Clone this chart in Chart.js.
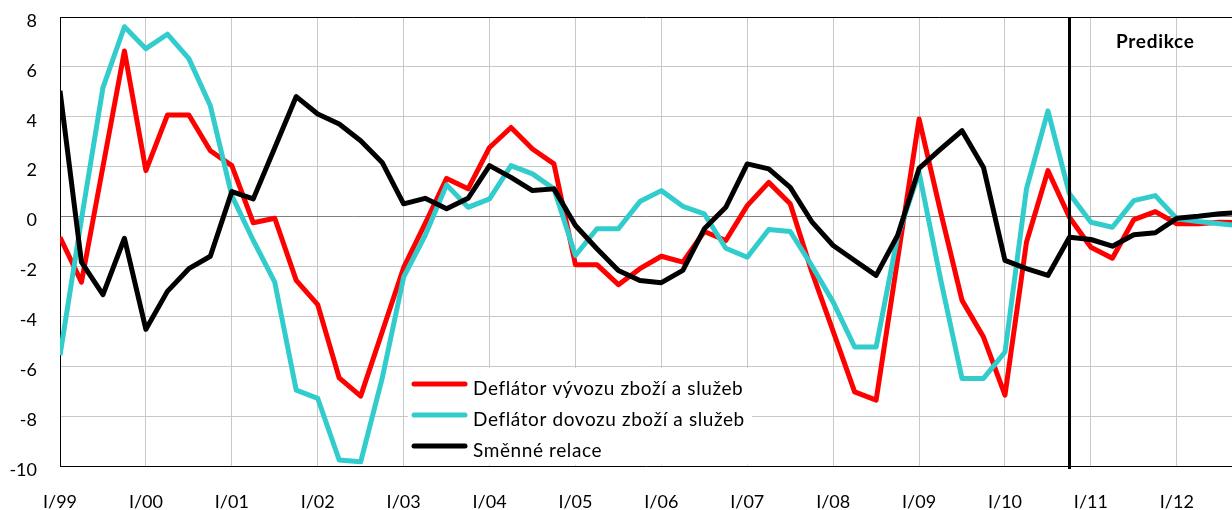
<!DOCTYPE html>
<html>
<head>
<meta charset="utf-8">
<script src="https://cdn.jsdelivr.net/npm/chart.js@4.4.1/dist/chart.umd.min.js"></script>
<style>
    html, body { margin: 0; padding: 0; background: #fff; }
</style>
</head>
<body>
<canvas id="deflatoryChart" width="1232" height="510"></canvas>
<script>
// roky a popisky osy X (I. ctvrtleti kazdeho roku)
const roky = ["99", "00", "01", "02", "03", "04", "05", "06", "07", "08", "09", "10", "11", "12"];
const popiskyOsyX = ["I/99", "I/00", "I/01", "I/02", "I/03", "I/04", "I/05", "I/06", "I/07", "I/08", "I/09", "I/10", "I/11", "I/12"];
const rimska = ["I", "II", "III", "IV"];
const ctvrtleti = [];
roky.forEach(r => rimska.forEach(q => ctvrtleti.push(q + "/" + r)));

// mezirocni zmeny v %, I/99 az IV/12
const deflatorVyvozu = [
    -0.83, -2.63, 2.0, 6.64, 1.84, 4.07, 4.07, 2.64,
    2.04, -0.25, -0.07, -2.56, -3.53, -6.47, -7.2, -4.63,
    -2.05, -0.28, 1.53, 1.11, 2.77, 3.57, 2.71, 2.11,
    -1.93, -1.93, -2.73, -2.09, -1.59, -1.83, -0.6, -0.96,
    0.44, 1.37, 0.51, -2.2, -4.6, -7.03, -7.36, -1.72,
    3.91, 0.2, -3.36, -4.83, -7.16, -1.03, 1.84, -0.03,
    -1.23, -1.67, -0.12, 0.2, -0.29, -0.29, -0.23, -0.25
];
const deflatorDovozu = [
    -5.56, -0.1, 5.17, 7.61, 6.73, 7.31, 6.33, 4.44,
    0.84, -0.96, -2.63, -6.96, -7.29, -9.76, -9.83, -6.49,
    -2.43, -0.76, 1.27, 0.37, 0.71, 2.04, 1.71, 1.11,
    -1.56, -0.49, -0.49, 0.6, 1.04, 0.41, 0.11, -1.27,
    -1.63, -0.52, -0.6, -1.96, -3.43, -5.23, -5.23, -0.8,
    1.77, -2.5, -6.49, -6.49, -5.43, 1.11, 4.24, 0.91,
    -0.23, -0.43, 0.64, 0.84, -0.09, -0.2, -0.29, -0.38
];
const smenneRelace = [
    5.04, -1.83, -3.13, -0.87, -4.52, -3.0, -2.09, -1.59,
    1.0, 0.71, 2.76, 4.81, 4.11, 3.71, 3.04, 2.17,
    0.51, 0.73, 0.31, 0.73, 2.04, 1.57, 1.04, 1.11,
    -0.36, -1.29, -2.16, -2.56, -2.65, -2.16, -0.49, 0.37,
    2.11, 1.91, 1.17, -0.2, -1.16, -1.76, -2.36, -0.76,
    1.93, 2.7, 3.44, 1.97, -1.76, -2.09, -2.36, -0.83,
    -0.92, -1.19, -0.73, -0.65, -0.07, 0.01, 0.11, 0.17
];

const zacatekPredikce = ctvrtleti.indexOf("IV/10");
const FONT = "Lato, 'Open Sans', sans-serif";

const body = arr => arr.map((v, i) => ({ x: i, y: v }));

// legenda uvnitr grafu + svisla cara predikce
const doplnky = {
    id: "doplnky",
    afterDatasetsDraw(chart) {
        const c = chart.ctx;
        const { x, y } = chart.scales;
        c.save();

        // predikce
        const px = Math.round(x.getPixelForValue(zacatekPredikce)) + 0.5;
        c.strokeStyle = "#000";
        c.lineWidth = 3;
        c.beginPath();
        c.moveTo(px, chart.chartArea.top);
        c.lineTo(px, chart.chartArea.bottom + 3);
        c.stroke();
        c.fillStyle = "#000";
        c.font = "bold 19px " + FONT;
        c.letterSpacing = "0.7px";
        c.textAlign = "center";
        c.textBaseline = "middle";
        c.fillText("Predikce", x.getPixelForValue(zacatekPredikce + 4), y.getPixelForValue(7));

        // legenda
        c.fillStyle = "#fff";
        c.fillRect(408, 368, 344, 97);
        c.font = "19px " + FONT;
        c.letterSpacing = "0.6px";
        c.textAlign = "left";
        c.textBaseline = "alphabetic";
        chart.data.datasets.forEach((ds, i) => {
            const ly = 384 + i * 31;
            c.strokeStyle = ds.borderColor;
            c.lineWidth = 5;
            c.lineCap = "round";
            c.beginPath();
            c.moveTo(414, ly);
            c.lineTo(465, ly);
            c.stroke();
            c.fillStyle = "#000";
            c.fillText(ds.label, 473, ly + 11);
        });
        c.restore();
    }
};

const ctx = document.getElementById("deflatoryChart").getContext("2d");
new Chart(ctx, {
    type: "line",
    data: {
        datasets: [
            {
                label: "Deflátor vývozu zboží a služeb",
                data: body(deflatorVyvozu),
                borderColor: "#ff0000",
                order: 2,
            },
            {
                label: "Deflátor dovozu zboží a služeb",
                data: body(deflatorDovozu),
                borderColor: "#33cccc",
                order: 1,
            },
            {
                label: "Směnné relace",
                data: body(smenneRelace),
                borderColor: "#000000",
                order: 0,
            },
        ],
    },
    options: {
        responsive: false,
        animation: false,
        devicePixelRatio: 1,
        elements: {
            point: { radius: 0 },
            line: { borderWidth: 5, tension: 0, borderJoinStyle: "round", fill: false },
        },
        layout: { padding: { top: 17, right: 0, left: 0, bottom: 0 } },
        plugins: {
            legend: { display: false },
            tooltip: { enabled: false },
        },
        scales: {
            x: {
                type: "linear",
                min: 0,
                max: 54.57,
                grid: { color: "#c8c8c8", drawTicks: false },
                border: { color: "#000", width: 1 },
                ticks: {
                    stepSize: 4,
                    includeBounds: false,
                    autoSkip: false,
                    maxRotation: 0,
                    padding: 25,
                    color: "#000",
                    font: { family: FONT, size: 18 },
                    callback: v => popiskyOsyX[v / 4],
                },
                afterFit: s => { s.height = 44; s.paddingLeft = 0; s.paddingRight = 0; },
            },
            y: {
                min: -10,
                max: 8,
                grid: {
                    drawTicks: false,
                    color: c => c.tick.value === 0 ? "#808080" : (c.tick.value === 8 ? "#000" : "#c8c8c8"),
                },
                border: { color: "#000", width: 1 },
                ticks: {
                    stepSize: 2,
                    padding: 23,
                    labelOffset: 4,
                    color: "#000",
                    font: { family: FONT, size: 18 },
                },
                afterFit: s => { s.width = 60; s.paddingTop = 0; s.paddingBottom = 0; },
            },
        },
    },
    plugins: [doplnky],
});
</script>
</body>
</html>
